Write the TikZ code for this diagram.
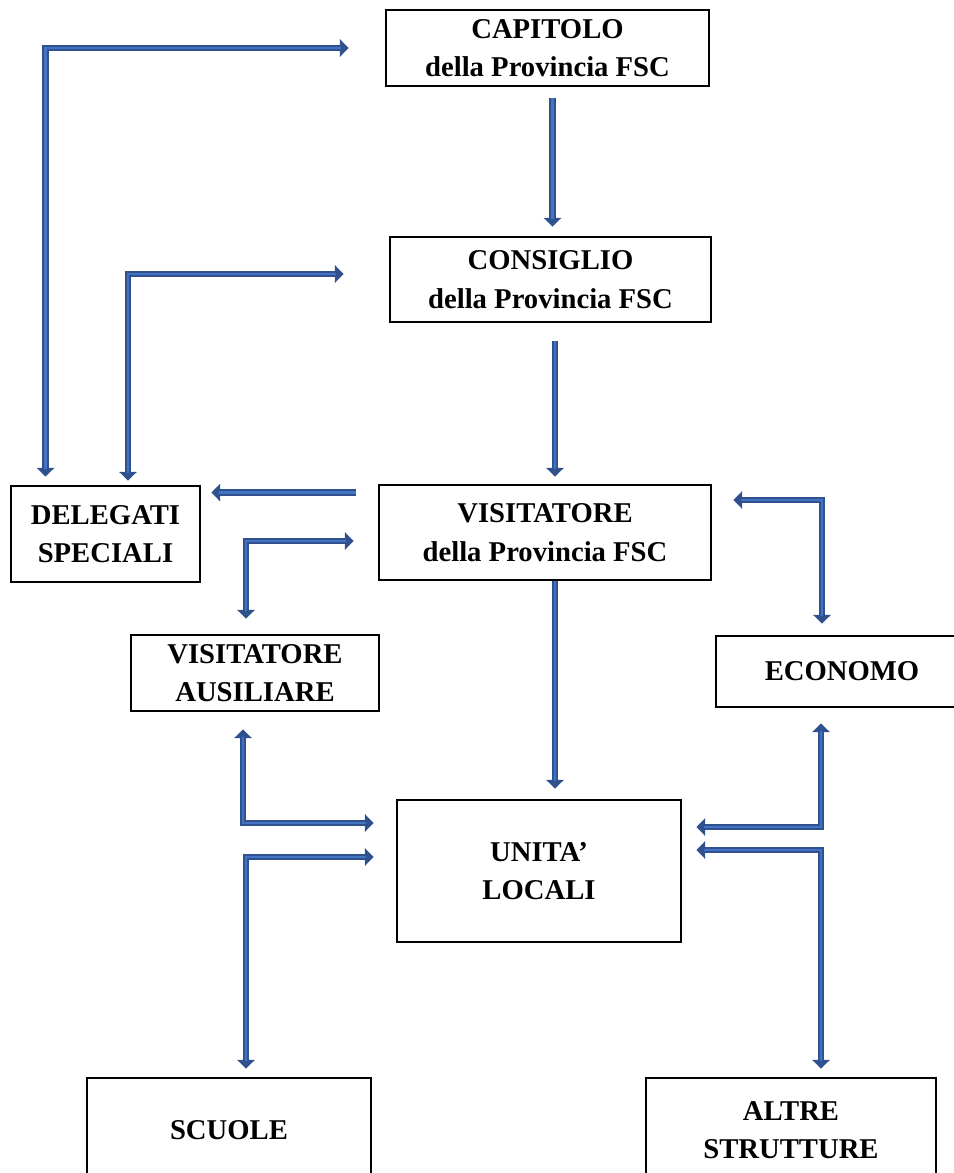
\documentclass[tikz,border=0pt]{standalone}
\usepackage{fontspec}
\setmainfont{Liberation Serif}
\usetikzlibrary{calc,arrows.meta}
\definecolor{linkblue}{HTML}{2F528F}
\definecolor{linklight}{HTML}{4472C4}
\tikzset{
	office/.style={draw,line width=2.2pt,align=center,inner sep=0pt,font=\bfseries\fontsize{21.5}{29}\selectfont},%
	link/.style={draw=linkblue,line width=5pt},%
	tip/.style={-{Triangle[width=13pt,length=6.5pt]},postaction={draw=linklight,line width=1.8pt,-,shorten >=6pt}},%
	bothtips/.style={{Triangle[width=13pt,length=6.5pt]}-{Triangle[width=13pt,length=6.5pt]},postaction={draw=linklight,line width=1.8pt,-,shorten >=6pt,shorten <=6pt}},%
}
\begin{document}
\begin{tikzpicture}[x=0.75pt,y=-0.75pt]
		\useasboundingbox (0,0) rectangle (953,1173);
		% boxes
		\node[office,minimum width=242.25pt,minimum height=57pt] (capitolo) at (547.5,48) {CAPITOLO\\della Provincia FSC};
		\node[office,minimum width=240.75pt,minimum height=63.75pt] (consiglio) at (550.5,279.5) {CONSIGLIO\\della Provincia FSC};
		\node[office,minimum width=141.75pt,minimum height=72pt] (delegati) at (105.5,534) {DELEGATI\\SPECIALI};
		\node[office,minimum width=249pt,minimum height=71.25pt] (visitatore) at (545,532.5) {VISITATORE\\della Provincia FSC};
		\node[office,minimum width=186pt,minimum height=57pt] (ausiliare) at (255,673) {VISITATORE\\AUSILIARE};
		\node[office,minimum width=189pt,minimum height=53.25pt] (economo) at (842,671.5) {ECONOMO};
		\node[office,minimum width=213pt,minimum height=106.5pt] (unita) at (539,871) {UNITA'\\LOCALI};
		\node[office,minimum width=213pt,minimum height=78pt] (scuole) at (229,1130) {SCUOLE};
		\node[office,minimum width=217.5pt,minimum height=78pt] (altre) at (791,1130) {ALTRE\\STRUTTURE};
		% connectors
		\draw[link,bothtips] ($(capitolo.west)+(-36,0)$) -| ($(delegati.north west)+(36,-8)$);
		\draw[link,tip] ($(capitolo.south)+(5,11)$) -- ($(consiglio.north)+(2,-9)$);
		\draw[link,bothtips] ($(consiglio.west)+(-45,-5.5)$) -| ($(delegati.north)+(22.5,-4)$);
		\draw[link,tip] ($(consiglio.south)+(4.5,18)$) -- ($(visitatore.north)+(10,-7)$);
		\draw[link,tip] ($(visitatore.north west)+(-22,9)$) -- ($(delegati.north east)+(10,8)$);
		\draw[link,bothtips] ($(visitatore.west)+(-24,8.5)$) -| ($(ausiliare.north)+(-9,-15)$);
		\draw[link,tip] ($(visitatore.south)+(10,0)$) -- ($(unita.north)+(16,-10)$);
		\draw[link,bothtips] ($(visitatore.east)+(21,-32.5)$) -| ($(economo.north)+(-20,-11)$);
		\draw[link,bothtips] ($(ausiliare.south)+(-12,17)$) |- ($(unita.west)+(-22,-48)$);
		\draw[link,bothtips] ($(unita.west)+(-22,-14)$) -| ($(scuole.north)+(17,-8)$);
		\draw[link,bothtips] ($(economo.south)+(-21,15)$) |- ($(unita.east)+(14,-44)$);
		\draw[link,bothtips] ($(unita.east)+(14,-21)$) -| ($(altre.north)+(30,-8)$);
	\end{tikzpicture}
\end{document}
